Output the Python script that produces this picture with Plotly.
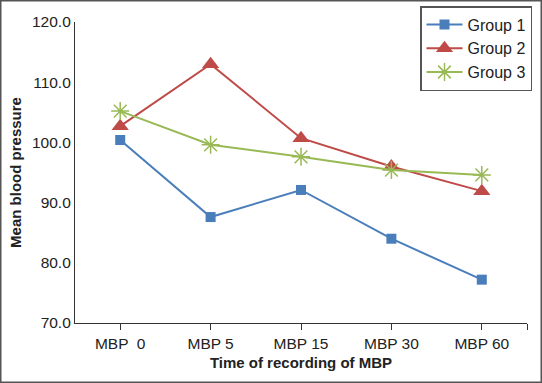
import plotly.graph_objects as go

categories = ["MBP  0", "MBP 5", "MBP 15", "MBP 30", "MBP 60"]
group1 = [100.4, 87.6, 92.1, 84.0, 77.2]
group2 = [102.7, 113.0, 100.7, 96.0, 91.9]
group3 = [105.2, 99.6, 97.6, 95.4, 94.6]
y_ticks = [70, 80, 90, 100, 110, 120]

L, R, T, B = 75, 15, 22, 60
W, H = 542, 383
pw, ph = W - L - R, H - T - B

fig = go.Figure()
fig.add_trace(go.Scatter(x=list(range(5)), y=group1, name="Group 1", mode="lines+markers",
                         line=dict(color="#4a7ebb", width=2),
                         marker=dict(symbol="square", size=10, color="#4a7ebb")))
fig.add_trace(go.Scatter(x=list(range(5)), y=group2, name="Group 2", mode="lines+markers",
                         line=dict(color="#be4b48", width=2),
                         marker=dict(symbol="triangle-up", size=15, color="#be4b48")))
fig.add_trace(go.Scatter(x=list(range(5)), y=group3, name="Group 3", mode="lines+markers",
                         line=dict(color="#98b954", width=2),
                         marker=dict(symbol="asterisk-open", size=15, color="#98b954",
                                     line=dict(color="#98b954", width=1.5))))

fig.update_layout(
    width=W, height=H,
    margin=dict(l=L, r=R, t=T, b=B, autoexpand=False),
    paper_bgcolor="white", plot_bgcolor="white",
    font=dict(family="Liberation Sans, Arial, sans-serif", size=15, color="#222"),
    showlegend=True,
    legend=dict(x=(532 - L) / pw, y=(H - B - 6) / ph, xanchor="right", yanchor="top",
                bordercolor="#555", borderwidth=1.5, bgcolor="white",
                font=dict(size=16), tracegroupgap=0, itemwidth=36),
    xaxis=dict(range=[-0.5, 4.5], tickmode="array",
               tickvals=[0, 1, 2, 3, 4, 4.5], ticktext=categories + [""],
               showline=True, linecolor="#333", linewidth=1.2, ticks="outside",
               ticklen=6, tickcolor="#333", showgrid=False, zeroline=False,
               tickfont=dict(size=15.5),
               title=dict(text="<b>Time of recording of MBP</b>", font=dict(size=15), standoff=6)),
    yaxis=dict(range=[70, 120], tickmode="array", tickvals=y_ticks,
               ticktext=[f"{v:.1f}" for v in y_ticks],
               showline=True, linecolor="#333", linewidth=1.2, ticks="",
               showgrid=False, zeroline=False, tickfont=dict(size=15.5),
               title=dict(text="<b>Mean blood pressure</b>", font=dict(size=15), standoff=6)),
)

fig.add_shape(type="rect", xref="paper", yref="paper",
              x0=(0.75 - L) / pw, x1=(W - 0.75 - L) / pw,
              y0=(H - B - (H - 0.75)) / ph, y1=(H - B - 0.75) / ph,
              line=dict(color="#555", width=1.5), layer="below")

fig.write_html("out.html", config={"displayModeBar": False},
               post_script="document.body.style.margin='0';")
